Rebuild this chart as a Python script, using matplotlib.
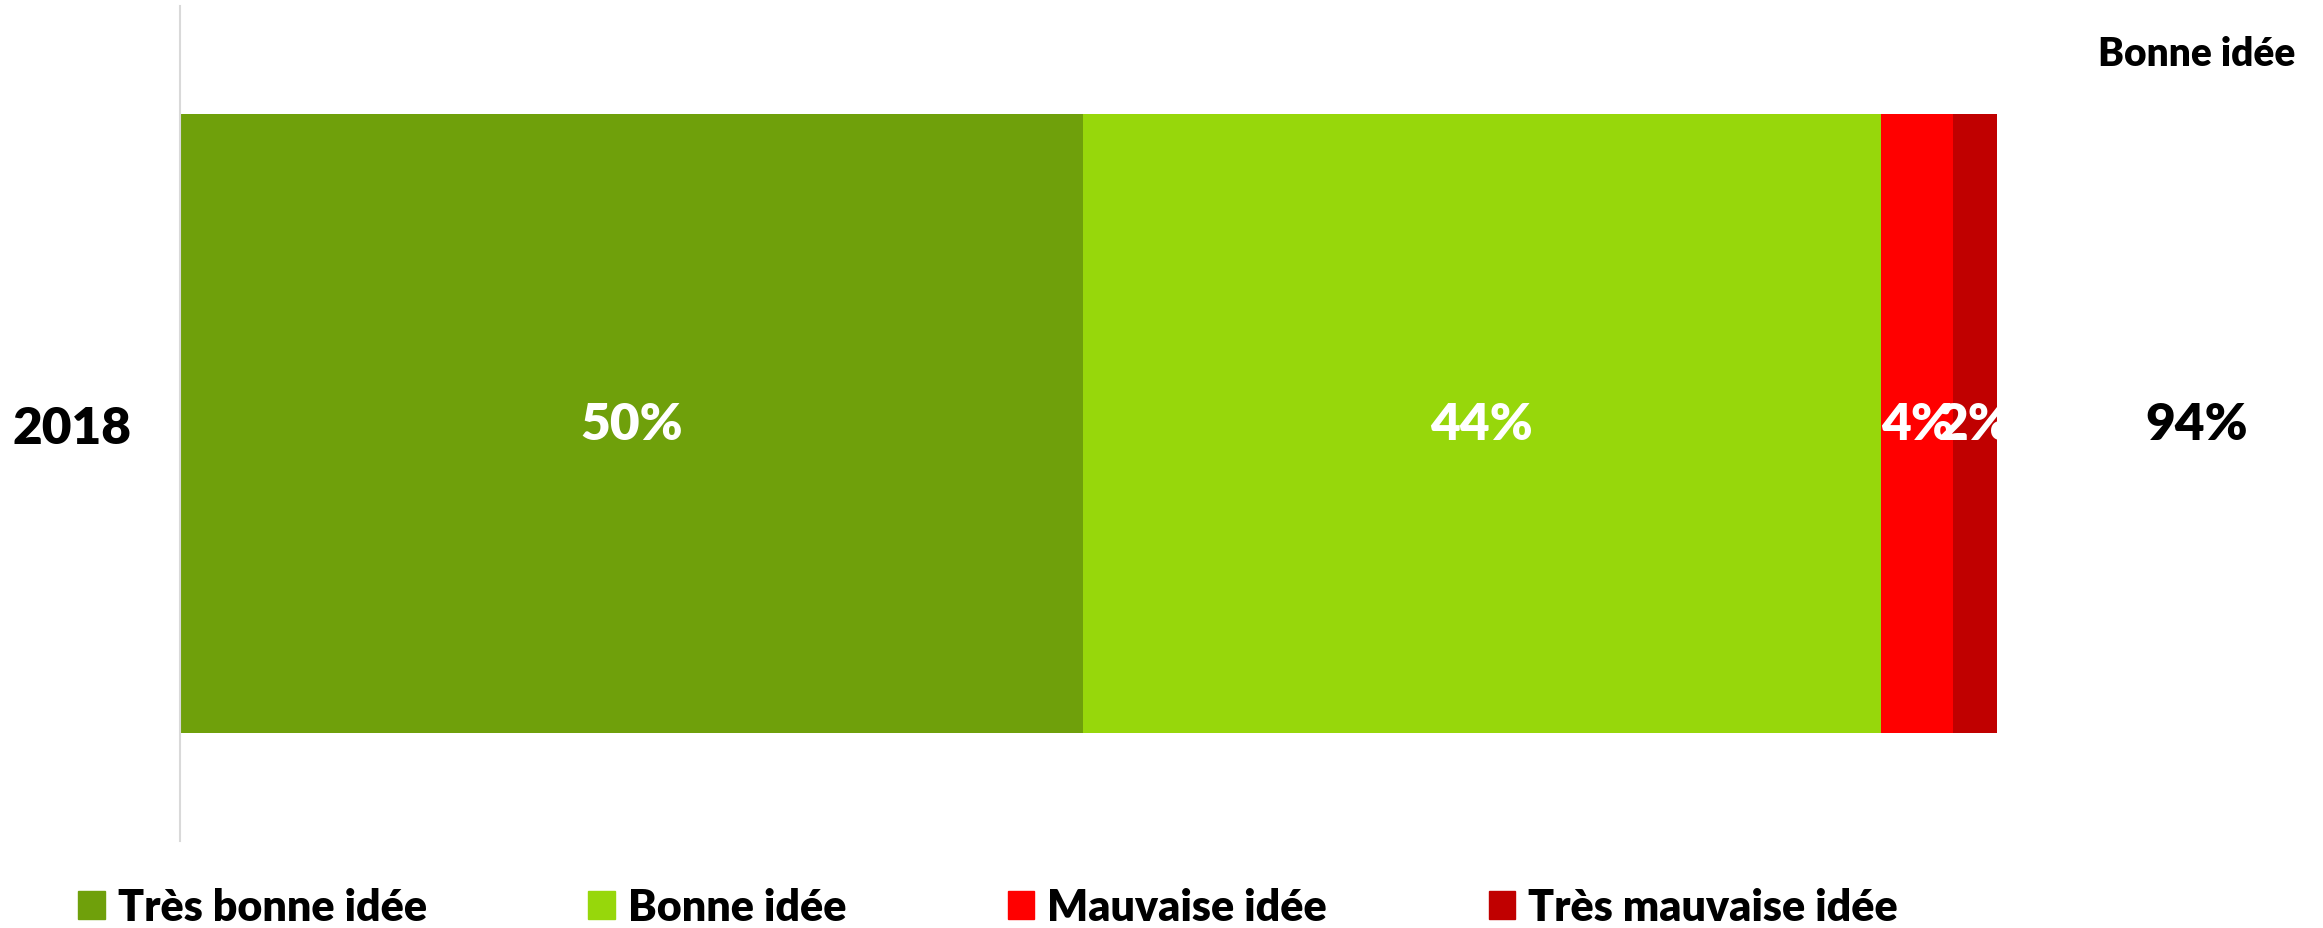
import matplotlib.pyplot as plt
from matplotlib.patches import Patch

# donnees
annees = ['2018']
categories = ['Très bonne idée', 'Bonne idée', 'Mauvaise idée', 'Très mauvaise idée']
valeurs = [49.7, 43.9, 4.0, 2.4]
couleurs = ['#6FA00B', '#97D70B', '#FF0000', '#C00000']
titre_total = 'Bonne idée'

plt.rcParams['font.family'] = ['Lato', 'DejaVu Sans']
poids = 'heavy'

W, H = 2323, 929
fig = plt.figure(figsize=(W / 100, H / 100), dpi=100)
ax = fig.add_axes([180 / W, 1 - 842 / H, (1997 - 180) / W, (842 - 7) / H])

gauche = 0
for cat, v, c in zip(categories, valeurs, couleurs):
    ax.barh(0, v, left=gauche, height=0.741, color=c, label=cat)
    ax.text(gauche + v / 2, 0, f'{v:.0f}%', ha='center', va='center',
            color='white', fontsize=37, fontweight=poids)
    gauche += v

total_bonne = valeurs[0] + valeurs[1]
ax.text(111, 0, f'{total_bonne:.0f}%', ha='center', va='center',
        fontsize=37, fontweight=poids, color='black', clip_on=False)
fig.text(2197 / W, 1 - 54 / H, titre_total, ha='center', va='center',
         fontsize=28, fontweight=poids)

ax.set_xlim(0, 100)
ax.set_ylim(-0.5, 0.5)
ax.set_yticks([0], labels=annees, fontsize=37, fontweight=poids)
ax.tick_params(axis='y', length=0, pad=35)
ax.set_xticks([])
for s in ['top', 'right', 'bottom']:
    ax.spines[s].set_visible(False)
ax.spines['left'].set_color('#d9d9d9')
ax.spines['left'].set_linewidth(1.5)

poignees = [Patch(color=c) for c in couleurs]
fig.legend(poignees, categories, loc='center left', ncol=4,
           bbox_to_anchor=(78 / W, 1 - 908 / H), frameon=False,
           prop={'size': 31, 'weight': poids}, handlelength=0.62, handleheight=0.62,
           handletextpad=0.3, columnspacing=3.75, borderpad=0, borderaxespad=0)

plt.savefig('out.png', dpi=100)
